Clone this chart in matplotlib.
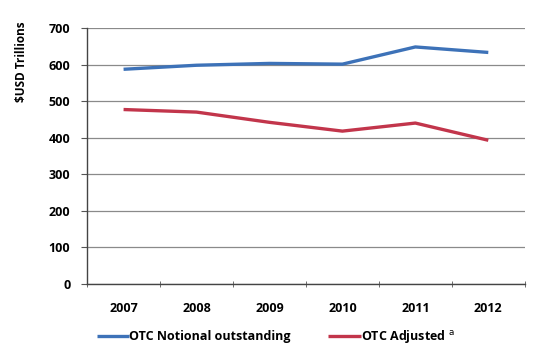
import matplotlib.pyplot as plt
import numpy as np

years = ['2007', '2008', '2009', '2010', '2011', '2012']
notional = [587, 598, 603, 601, 648, 633]
adjusted = [477, 470, 442, 418, 440, 393]

plt.rcParams['font.family'] = ['Open Sans', 'DejaVu Sans']

fig = plt.figure(figsize=(5.41, 3.49), dpi=100)
ax = fig.add_axes([0.161, 0.186, 0.809, 0.734])

x = np.arange(len(years))
ax.plot(x, notional, color='#3d72b8', lw=2.4, label='OTC Notional outstanding', solid_capstyle='butt')
ax.plot(x, adjusted, color='#c2354b', lw=2.4, label='OTC Adjusted $^{\\mathrm{a}}$', solid_capstyle='butt')

ax.set_xlim(-0.5, len(years) - 0.5)
ax.set_ylim(0, 700)
ax.set_yticks(range(0, 701, 100))
ax.yaxis.grid(True, color='#8a8a8a', lw=0.9)
ax.set_axisbelow(True)

# year labels centred on the points, tick marks on the category boundaries
ax.set_xticks(x)
ax.set_xticklabels(years, fontsize=9, fontweight='bold')
ax.tick_params(axis='x', which='major', length=0, pad=13)
ax.set_xticks(np.arange(-0.5, len(years), 1), minor=True)
ax.tick_params(axis='x', which='minor', direction='inout', length=5, color='#555555')
ax.tick_params(axis='y', direction='out', length=4, color='#555555', labelsize=9, pad=8)
for lbl in ax.get_yticklabels():
    lbl.set_fontweight('bold')

for s in ['top', 'right']:
    ax.spines[s].set_visible(False)
for s in ['left', 'bottom']:
    ax.spines[s].set_color('#444444')
    ax.spines[s].set_linewidth(1.0)

fig.text(0.04, 0.822, '$USD Trillions', rotation=90, ha='center', va='center',
         fontsize=8.5, fontweight='bold')

leg = fig.legend(loc='center', bbox_to_anchor=(0.51, 0.035), ncol=2, frameon=False,
                 prop={'size': 9, 'weight': 'bold'}, handlelength=2.6,
                 handletextpad=0.0, columnspacing=3.0)

plt.savefig('out.png', dpi=100)
